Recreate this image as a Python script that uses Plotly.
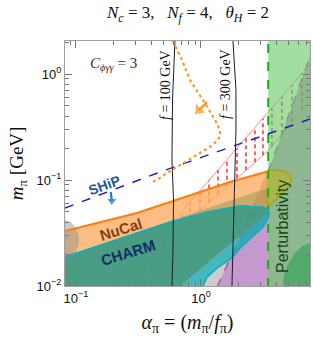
import numpy as np
import plotly.graph_objects as go

# ---------------- data (alpha_pi, m_pi [GeV]) ----------------
alpha_range = [0.0817, 7.45]
m_range = [0.01, 2.05]
alpha_pert = 3.45

nucal_alpha = [0.0817, 0.1556, 0.3076, 0.597, 0.982, 1.706, 3.076, 3.436]
nucal_m = [0.0330, 0.0402, 0.0489, 0.0634, 0.0771, 0.0958, 0.1164, 0.121]

charm_alpha = [0.0817, 0.325, 0.597, 1.117, 2.051, 3.133, 3.436, 3.50, 3.436, 3.133, 2.051, 1.770, 1.343, 1.117, 1.037]
charm_m = [0.0188, 0.0323, 0.0410, 0.0499, 0.0569, 0.0556, 0.0521, 0.0478, 0.0438, 0.0360, 0.0228, 0.0184, 0.0148, 0.01216, 0.01]

cover_alpha = [0.0817, 0.0817, 0.325, 0.597, 0.817, 3.436, 3.436, 0.679]
cover_m = [0.01, 0.0188, 0.0323, 0.0410, 0.0478, 0.0841, 0.0499, 0.01]

gray_alpha = [1.037, 1.117, 1.343, 1.770, 2.051, 3.133, 3.436, 3.436]
gray_m = [0.01, 0.01216, 0.0148, 0.0184, 0.0228, 0.0360, 0.0438, 0.01]

purple_alpha = [1.343, 2.128, 3.436, 5.152, 7.18, 7.45]
purple_m = [0.0098, 0.0316, 0.119, 0.438, 1.298, 1.446]

band_up_alpha = [0.213, 0.597, 3.436, 7.45]
band_up_m = [0.01, 0.0402, 0.4285, 1.243]
band_lo_alpha = [0.391, 0.705, 3.436, 7.45]
band_lo_m = [0.01, 0.0368, 0.188, 0.569]
hatch_alpha = [0.302, 0.356, 0.421, 0.497, 0.586, 0.705, 0.817, 0.982, 1.159, 1.368,
               1.614, 1.941, 2.291, 2.704, 3.133, 3.698, 4.446, 5.346, 6.427]

blob_alpha = [4.529, 4.613, 4.966, 5.649, 6.427, 7.45, 7.45]
blob_m = [0.01, 0.0127, 0.0161, 0.0205, 0.0239, 0.0255, 0.01]

olive_alpha = [3.251, 3.698, 4.529, 5.152, 5.248, 4.875, 4.285, 3.698, 3.436, 3.311]
olive_m = [0.119, 0.124, 0.1216, 0.1115, 0.098, 0.0823, 0.0706, 0.0607, 0.0544, 0.0805]

circle_alpha = [0.0817, 0.0912, 0.1, 0.1057, 0.1057, 0.1, 0.0912, 0.0817]
circle_m = [0.0420, 0.0402, 0.0353, 0.0296, 0.0249, 0.0209, 0.0184, 0.0168]

ship_alpha = [0.0817, 0.470, 7.45]
ship_m = [0.0544, 0.119, 0.376]

f100_alpha = [0.619, 0.592, 0.586, 0.603, 0.597, 0.586]
f100_m = [2.05, 0.569, 0.1544, 0.0648, 0.0219, 0.01]
f300_alpha = [1.803, 1.905, 1.905, 1.837, 1.803, 1.770]
f300_m = [2.05, 0.706, 0.296, 0.0648, 0.0176, 0.01]

dot_alpha = [0.597, 0.619, 0.705, 0.817, 0.982, 1.137, 1.294, 1.419, 1.419, 1.247, 0.982, 0.718, 0.535, 0.445, 0.391]
dot_m = [2.05, 1.88, 1.355, 0.878, 0.634, 0.478, 0.368, 0.296, 0.255, 0.214, 0.180, 0.145, 0.1164, 0.1, 0.0937]

# arrows: [tail, head]
dot_arrow_alpha = [1.117, 0.96]
dot_arrow_m = [0.544, 0.455]
ship_arrow_alpha = [0.190, 0.1935]
ship_arrow_m = [0.0770, 0.0635]

x_tickvals = [0.1, 1]
x_ticktext = ["10<sup>\u22121</sup>", "10<sup>0</sup>"]
y_tickvals = [0.01, 0.1, 1]
y_ticktext = ["10<sup>\u22122</sup>", "10<sup>\u22121</sup>", "10<sup>0</sup>"]

SANS = "Liberation Sans, Arial, sans-serif"
SERIF = "Liberation Serif, DejaVu Serif, serif"

fig = go.Figure()


def poly(xs, ys, color, line=None):
    fig.add_trace(go.Scatter(x=xs, y=ys, mode="lines", fill="toself", fillcolor=color,
                             line=line or dict(width=0), hoverinfo="skip", showlegend=False))


def curve(xs, ys, color, width, dash="solid"):
    fig.add_trace(go.Scatter(x=xs, y=ys, mode="lines", line=dict(color=color, width=width, dash=dash),
                             hoverinfo="skip", showlegend=False))


def arrow(xs, ys, color, width, size, angle):
    fig.add_trace(go.Scatter(x=xs, y=ys, mode="lines+markers", line=dict(color=color, width=width),
                             marker=dict(symbol="triangle-up", size=[0, size], angle=angle, color=color,
                                         line=dict(width=0)),
                             hoverinfo="skip", showlegend=False))


def logi(xq, xs, ys):
    return 10 ** np.interp(np.log10(xq), np.log10(xs), np.log10(ys))


# gray region below CHARM lobe
poly(gray_alpha, gray_m, "rgb(204,204,204)")
# purple region
poly(purple_alpha + [purple_alpha[-1]], purple_m + [0.0098], "rgba(196,146,206,0.9)")
curve(purple_alpha, purple_m, "rgb(175,85,180)", 1.5, "dash")

# red hatched band
curve(band_up_alpha, band_up_m, "rgba(255,90,90,0.9)", 0.8)
curve(band_lo_alpha, band_lo_m, "rgba(255,90,90,0.9)", 0.8)
hx, hy = [], []
for a in hatch_alpha:
    hx += [a, a, None]
    hy += [logi(a, band_lo_alpha, band_lo_m), logi(a, band_up_alpha, band_up_m), None]
fig.add_trace(go.Scatter(x=hx, y=hy, mode="lines", line=dict(color="rgb(240,40,40)", width=1.4, dash="4px,3px"),
                         hoverinfo="skip", showlegend=False, connectgaps=False))

# NuCal fill
poly(nucal_alpha + [3.436, 0.679, 0.0817], nucal_m + [0.0499, 0.01, 0.01], "rgba(252,172,100,0.8)")
# CHARM fill
poly(charm_alpha + [0.0817], charm_m + [0.01], "rgba(22,165,178,0.8)")
# greenish overlay
poly(cover_alpha, cover_m, "rgba(80,130,50,0.3)")
curve([0.679, 3.436], [0.01, 0.0499], "rgba(150,150,60,0.5)", 1)
# gray circle
poly(circle_alpha, circle_m, "rgba(140,140,140,0.45)")

# perturbativity region
poly([alpha_pert, 7.45, 7.45, alpha_pert], [0.0098, 0.0098, 2.1, 2.1], "rgba(105,200,105,0.62)")
poly(blob_alpha, blob_m, "rgba(40,160,80,0.6)")
poly(olive_alpha, olive_m, "rgba(190,180,30,0.6)", dict(color="rgb(175,160,20)", width=1.5))
curve([alpha_pert, alpha_pert], [0.0098, 2.1], "rgb(20,175,20)", 2, "dash")

# boundary lines
curve(nucal_alpha, nucal_m, "rgb(255,125,10)", 2)
curve(charm_alpha, charm_m, "rgb(20,175,180)", 1.8)

# f lines
curve(f100_alpha, f100_m, "rgb(30,30,30)", 1)
curve(f300_alpha, f300_m, "rgb(30,30,30)", 1)

# SHiP
curve(ship_alpha, ship_m, "rgb(30,30,200)", 1.5, "dash")
# dotted orange
curve(dot_alpha, dot_m, "rgb(255,150,40)", 2.2, "dot")

# arrows
arrow(dot_arrow_alpha, dot_arrow_m, "rgb(255,150,30)", 2.5, 11, 225)
arrow(ship_arrow_alpha, ship_arrow_m, "rgb(30,120,210)", 2.2, 8, 180)

L = np.log10
ann = [
    dict(x=L(0.198), y=L(1.242), text="<i>C</i><sub><i>\u03d5\u03b3\u03b3</i></sub> = 3",
         font=dict(family=SERIF, size=15, color="#333"), textangle=0),
    dict(x=L(0.515), y=L(0.787), text="<i>f</i> = 100 GeV", font=dict(family=SERIF, size=14, color="#111"), textangle=-90),
    dict(x=L(1.556), y=L(0.805), text="<i>f</i> = 300 GeV", font=dict(family=SERIF, size=14, color="#111"), textangle=-90),
    dict(x=L(0.1706), y=L(0.0897), text="<b>SHiP</b>", font=dict(family=SANS, size=14, color="rgb(30,90,160)"), textangle=-20),
    dict(x=L(0.225), y=L(0.0345), text="<b>NuCal</b>", font=dict(family=SANS, size=15, color="rgb(130,65,20)"), textangle=-17),
    dict(x=L(0.2606), y=L(0.0209), text="<b>CHARM</b>", font=dict(family=SANS, size=15, color="rgb(20,45,100)"), textangle=-17),
    dict(x=L(4.446), y=L(0.0368), text="Perturbativity", font=dict(family=SANS, size=16, color="rgb(15,75,15)"), textangle=-90),
]
for a in ann:
    a.update(xref="x", yref="y", showarrow=False)
    fig.add_annotation(**a)

fig.add_annotation(x=0.5, y=1, xref="paper", yref="paper", xanchor="center", yanchor="bottom", yshift=14,
                   showarrow=False,
                   text="<i>N</i><sub><i>c</i></sub> = 3,\u2002 <i>N</i><sub><i>f</i></sub> = 4,\u2002 <i>\u03b8</i><sub><i>H</i></sub> = 2",
                   font=dict(family=SERIF, size=17, color="#111"))

minor_x = [k * 10 ** e for e in (-2, -1, 0) for k in range(2, 10)]
minor_y = [k * 10 ** e for e in (-3, -2, -1, 0) for k in range(2, 10)]

axis_common = dict(type="log", showgrid=False, zeroline=False, showline=True, linecolor="#a0a0a0", linewidth=1,
                   mirror="ticks", ticks="inside", ticklen=7, tickcolor="#777", tickwidth=1, automargin=False,
                   tickfont=dict(family=SANS, size=13, color="#111"))

fig.update_xaxes(**axis_common, range=[L(alpha_range[0]), L(alpha_range[1])],
                 tickvals=x_tickvals, ticktext=x_ticktext,
                 minor=dict(tickvals=minor_x, ticks="inside", ticklen=4, tickcolor="#777"),
                 title=dict(text="<i>\u03b1</i><sub>\u03c0</sub> = (<i>m</i><sub>\u03c0</sub>/<i>f</i><sub>\u03c0</sub>)",
                            font=dict(family=SERIF, size=20, color="#111"), standoff=10))
fig.update_yaxes(**axis_common, range=[L(m_range[0]), L(m_range[1])],
                 tickvals=y_tickvals, ticktext=y_ticktext,
                 minor=dict(tickvals=minor_y, ticks="inside", ticklen=4, tickcolor="#777"),
                 title=dict(text="<i>m</i><sub>\u03c0</sub> [GeV]", font=dict(family=SERIF, size=19, color="#111"),
                            standoff=7))

fig.update_layout(width=313, height=342, margin=dict(l=65, r=3, t=41, b=56),
                  paper_bgcolor="white", plot_bgcolor="white", showlegend=False)

fig.write_html("out.html", include_plotlyjs=True, config={"displayModeBar": False},
               post_script="document.body.style.margin='0';")
